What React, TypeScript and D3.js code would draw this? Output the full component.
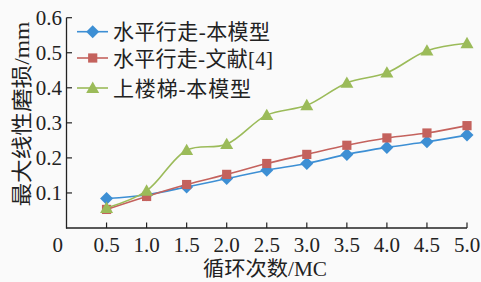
import React from "react";
import * as d3 from "d3";

const cycles = [0.5, 1.0, 1.5, 2.0, 2.5, 3.0, 3.5, 4.0, 4.5, 5.0];
const walkModel = [0.084, 0.095, 0.117, 0.141, 0.165, 0.184, 0.21, 0.23, 0.246, 0.265];
const walkRef = [0.053, 0.09, 0.124, 0.153, 0.184, 0.21, 0.236, 0.257, 0.271, 0.292];
const stairsModel = [0.057, 0.106, 0.222, 0.239, 0.322, 0.35, 0.414, 0.443, 0.506, 0.527];
const seriesNames = ["水平行走-本模型", "水平行走-文献[4]", "上楼梯-本模型"];
const yTicks = [0.1, 0.2, 0.3, 0.4, 0.5, 0.6];
const xTicks = [0.5, 1.0, 1.5, 2.0, 2.5, 3.0, 3.5, 4.0, 4.5, 5.0];
const xTitle = "循环次数/MC";
const yTitle = "最大线性磨损/mm";

const W = 481;
const H = 282;
const FONT = "'Liberation Serif', 'Times New Roman', 'Noto Sans CJK SC', serif";
const colors = ["#3d8fd4", "#c4625d", "#9bbb59"];
const shapes = ["diamond", "square", "triangle"];
const legendWidths = [157, 160, 138];

function Marker({ shape, x, y, color }: { shape: string; x: number; y: number; color: string }) {
  if (shape === "diamond") {
    const r = 6.5;
    return <path d={`M${x},${y - r}L${x + r},${y}L${x},${y + r}L${x - r},${y}Z`} fill={color} />;
  }
  if (shape === "square") {
    const s = 4.6;
    return <rect x={x - s} y={y - s} width={2 * s} height={2 * s} fill={color} />;
  }
  const r = 6.5;
  return <path d={`M${x},${y - r}L${x + r},${y + r * 0.75}L${x - r},${y + r * 0.75}Z`} fill={color} />;
}

export default function App() {
  const x = d3.scaleLinear().domain([0, 5]).range([66.5, 467]);
  const y = d3.scaleLinear().domain([0, 0.6]).range([228, 17.7]);
  const data = [walkModel, walkRef, stairsModel];
  const line = d3
    .line<number>()
    .x((_, i) => x(cycles[i]))
    .y((d) => y(d))
    .curve(d3.curveCatmullRom.alpha(0.5));

  return (
    <svg
      width={W}
      height={H}
      style={{ position: "absolute", left: 0, top: 0, background: "#fafafa" }}
      fontFamily={FONT}
    >
      <rect x={0} y={0} width={W} height={H} fill="#fafafa" />
      {/* axes */}
      <line x1={66.5} y1={y(0.6)} x2={66.5} y2={228.5} stroke="#222" strokeWidth={1.3} />
      <line x1={66} y1={228} x2={x(5)} y2={228} stroke="#222" strokeWidth={1.3} />
      {yTicks.map((t) => (
        <g key={"y" + t}>
          <line x1={66.5} x2={72} y1={y(t)} y2={y(t)} stroke="#222" strokeWidth={1.2} />
          <text x={62} y={y(t)} dy="0.35em" textAnchor="end" fontSize={21} fill="#222">
            {t.toFixed(1)}
          </text>
        </g>
      ))}
      {xTicks.map((t) => (
        <g key={"x" + t}>
          <line x1={x(t)} x2={x(t)} y1={228} y2={222.5} stroke="#222" strokeWidth={1.2} />
          <text x={x(t)} y={252} textAnchor="middle" fontSize={21} fill="#222">
            {t.toFixed(1)}
          </text>
        </g>
      ))}
      <text x={57.7} y={252} textAnchor="middle" fontSize={21} fill="#222">
        0
      </text>
      <text
        x={265}
        y={276}
        textAnchor="middle"
        fontSize={20}
        fill="#222"
        textLength={124}
        lengthAdjust="spacingAndGlyphs"
      >
        {xTitle}
      </text>
      <text
        transform={`translate(29,114) rotate(-90)`}
        textAnchor="middle"
        fontSize={21}
        fill="#222"
        textLength={185}
        lengthAdjust="spacingAndGlyphs"
      >
        {yTitle}
      </text>
      {/* series */}
      {data.map((vals, si) => (
        <g key={"s" + si}>
          <path d={line(vals) || ""} fill="none" stroke={colors[si]} strokeWidth={1.6} />
          {vals.map((v, i) => (
            <Marker key={i} shape={shapes[si]} x={x(cycles[i])} y={y(v)} color={colors[si]} />
          ))}
        </g>
      ))}
      {/* legend */}
      {seriesNames.map((name, i) => {
        const ly = [31.7, 58, 88][i];
        return (
          <g key={"l" + i}>
            <line x1={77} x2={108} y1={ly} y2={ly} stroke={colors[i]} strokeWidth={1.6} />
            <Marker shape={shapes[i]} x={92.7} y={ly} color={colors[i]} />
            <text
              x={113}
              y={ly}
              dy="0.36em"
              fontSize={21}
              fill="#222"
              textLength={legendWidths[i]}
              lengthAdjust="spacing"
            >
              {name}
            </text>
          </g>
        );
      })}
    </svg>
  );
}
